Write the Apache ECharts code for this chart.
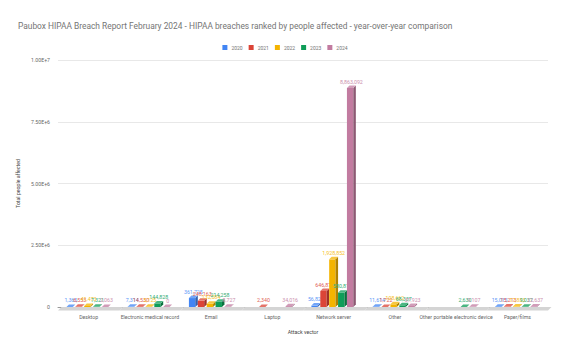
<!DOCTYPE html>
<html>
<head>
<meta charset="utf-8">
<script src="https://cdn.jsdelivr.net/npm/echarts@6/dist/echarts.min.js"></script>
<style>
  html, body { margin: 0; padding: 0; background: #fff; }
  #chart { width: 570px; height: 351px; }
</style>
</head>
<body>
<div id="chart"></div>
<script>
// categories (attack vectors)
const categories = ['Desktop', 'Electronic medical record', 'Email', 'Laptop', 'Network server', 'Other', 'Other portable electronic device', 'Paper/films'];
const years = ['2020', '2021', '2022', '2023', '2024'];
const colors = ['#4285F4', '#DB4437', '#F4B400', '#0F9D58', '#C27BA0'];

// people affected per year (null = no bar)
const v2020 = [1365, 7314, 361725, null, 56823, 11614, null, 15015];
const v2021 = [6553, 14530, 248163, 2340, 646877, 1722, null, 15213];
const v2022 = [41473, 5125, 132084, null, 1928852, 108662, null, 17833];
const v2023 = [7321, 144828, 214258, null, 580818, 68337, 2630, 9037];
const v2024 = [2063, 0, 8727, 34016, 8863092, 37923, 9107, 22637];
const yearValues = [v2020, v2021, v2022, v2023, v2024];

const yTicks = [0, 2500000, 5000000, 7500000, 10000000];

// darken / lighten a hex colour
function shade(hex, f) {
  const n = parseInt(hex.slice(1), 16);
  let r = (n >> 16) & 255, g = (n >> 8) & 255, b = n & 255;
  if (f < 1) { r *= f; g *= f; b *= f; }
  else { const k = f - 1; r += (255 - r) * k; g += (255 - g) * k; b += (255 - b) * k; }
  return 'rgb(' + Math.round(r) + ',' + Math.round(g) + ',' + Math.round(b) + ')';
}

const DEPTH = 2.5;

// one 3d column per data point
function makeRender(si) {
  return function (params, api) {
    const val = api.value(1);
    if (val === null || val === undefined || isNaN(val)) return;
    const band = api.size([1, 0])[0];
    const slot = band * 0.145;
    const w = slot * 0.72;
    const c = api.coord([api.value(0), val]);
    const base = api.coord([api.value(0), 0]);
    const x = c[0] + (si - 2) * slot - w / 2 - DEPTH / 2;
    const yt = c[1];
    const yb = base[1];
    const col = colors[si];
    const d = DEPTH;
    return {
      type: 'group',
      children: [
        { type: 'rect', shape: { x: x, y: yt, width: w, height: Math.max(yb - yt, 0) }, style: { fill: col } },
        { type: 'polygon', shape: { points: [[x + w, yt], [x + w + d, yt - d], [x + w + d, yb - d], [x + w, yb]] }, style: { fill: shade(col, 0.72) } },
        { type: 'polygon', shape: { points: [[x, yt], [x + d, yt - d], [x + w + d, yt - d], [x + w, yt]] }, style: { fill: shade(col, 1.25) } },
        {
          type: 'text',
          style: {
            text: val.toLocaleString('en-US'),
            x: x + w / 2 + d / 2, y: yt - d - 1.5,
            align: 'center', verticalAlign: 'bottom',
            fill: shade(col, 1.15), fontSize: 5.3, fontFamily: 'Roboto'
          }
        }
      ]
    };
  };
}

// gray floor under the columns
function renderFloor(params, api) {
  const band = api.size([1, 0])[0];
  const base = api.coord([api.value(0), 0]);
  const x0 = base[0] - band / 2, x1 = base[0] + band / 2;
  const y = base[1];
  return {
    type: 'polygon',
    shape: { points: [[x0, y + 3.5], [x0 + 3.5, y], [x1 + 3.5, y], [x1, y + 3.5]] },
    style: { fill: '#d4d4d4' }
  };
}

const series = [{
  type: 'custom',
  name: 'floor',
  renderItem: renderFloor,
  data: categories.map((c, i) => [i, 0]),
  silent: true,
  z: 1
}];
years.forEach((y, si) => {
  series.push({
    type: 'custom',
    name: y,
    renderItem: makeRender(si),
    encode: { x: 0, y: 1 },
    data: yearValues[si].map((v, i) => [i, v]),
    itemStyle: { color: colors[si] },
    z: 2
  });
});

const chart = echarts.init(document.getElementById('chart'), null, { renderer: 'svg' });
chart.setOption({
  animation: false,
  backgroundColor: '#fff',
  color: colors,
  title: {
    text: 'Paubox HIPAA Breach Report February 2024 - HIPAA breaches ranked by people affected - year-over-year comparison',
    left: 13, top: 17,
    textStyle: { fontSize: 8.4, fontWeight: 'normal', color: '#757575', fontFamily: 'Roboto' }
  },
  legend: {
    data: years,
    top: 40, left: 'center',
    itemWidth: 5, itemHeight: 5, itemGap: 6,
    icon: 'rect',
    textStyle: { fontSize: 5, color: '#757575', fontFamily: 'Roboto', padding: [0, 0, 0, -1] }
  },
  grid: { left: 58, right: 22, top: 60, bottom: 44 },
  xAxis: {
    type: 'category',
    data: categories,
    name: 'Attack vector',
    nameLocation: 'middle',
    nameGap: 22,
    nameTextStyle: { fontSize: 5.2, color: '#444', fontFamily: 'Roboto' },
    axisLine: { show: true, lineStyle: { color: '#999', width: 1 } },
    axisTick: { show: false },
    axisLabel: { fontSize: 5.2, color: '#666', margin: 7, interval: 0, fontFamily: 'Roboto' }
  },
  yAxis: {
    type: 'value',
    min: yTicks[0], max: yTicks[yTicks.length - 1], interval: 2500000,
    name: 'Total people affected',
    nameLocation: 'middle',
    nameGap: 34,
    nameTextStyle: { fontSize: 5.2, color: '#444', fontFamily: 'Roboto' },
    axisLine: { show: false },
    axisTick: { show: false },
    splitLine: { lineStyle: { color: '#e8e8e8' } },
    axisLabel: {
      fontSize: 5.2, color: '#666', margin: 8, fontFamily: 'Roboto',
      formatter: v => v === 0 ? '0' : v.toExponential(2).toUpperCase()
    }
  },
  series: series
});
</script>
</body>
</html>
